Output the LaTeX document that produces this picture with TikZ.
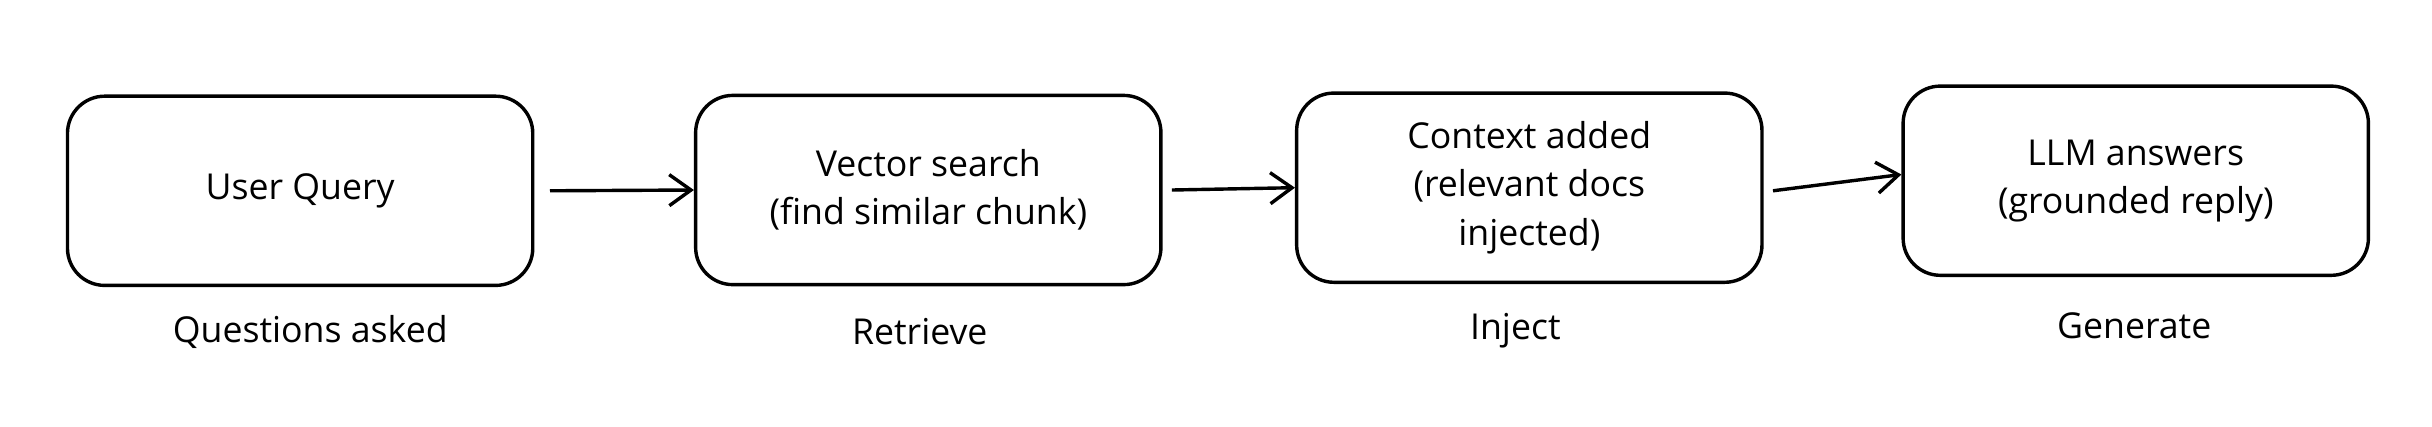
\documentclass[tikz,border=0pt]{standalone}
\usepackage{fontspec}
\setmainfont{Open Sans}
\usetikzlibrary{arrows.meta}
\begin{document}
\begin{tikzpicture}[x=0.5pt,y=-0.5pt,
  box/.style={draw=black,line width=1.1pt,rounded corners=12pt,minimum width=150pt,minimum height=61pt,align=center,font=\fontsize{11.5}{15.5}\selectfont,inner sep=0pt},
  lab/.style={font=\fontsize{11.5}{14}\selectfont},
  arr/.style={draw=black,line width=1.1pt,-{Straight Barb[length=7pt,width=10pt]}}]
\useasboundingbox (0,0) rectangle (1568,275);
\node[box] (b1) at (193.5,123) {User Query};
\node[box] (b2) at (598.5,122.5) {Vector search\\(find similar chunk)};
\node[box] (b3) at (986,121) {Context added\\(relevant docs\\injected)};
\node[box] (b4) at (1377,116.5) {LLM answers\\(grounded reply)};
\node[lab] (l1) at (200,214) {Questions asked};
\node[lab] (l2) at (593,214) {Retrieve};
\node[lab] (l3) at (977,213) {Inject};
\node[lab] (l4) at (1376,210) {Generate};
\draw[arr] (b1.east)++(5pt,0) coordinate (a1s) -- (b2.west);
\draw[arr] ([xshift=3pt]b2.east) -- ([yshift=0pt]b3.west);
\draw[arr] ([xshift=3pt,yshift=-1pt]b3.east) -- ([yshift=2pt]b4.west);
\end{tikzpicture}
\end{document}
